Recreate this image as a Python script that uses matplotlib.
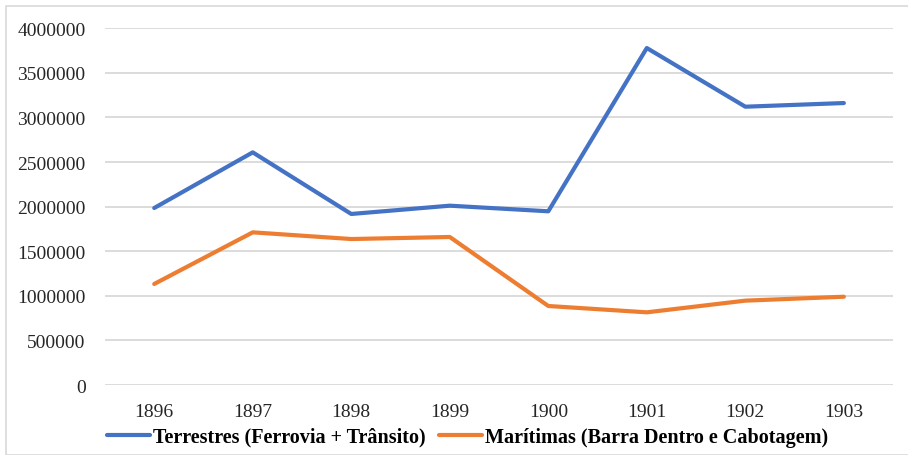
import matplotlib.pyplot as plt
from matplotlib.patches import Rectangle

plt.rcParams['font.family'] = ['Liberation Serif', 'DejaVu Serif']

anos = ['1896', '1897', '1898', '1899', '1900', '1901', '1902', '1903']
terrestres = [1985000, 2609000, 1918000, 2011000, 1948000, 3779000, 3121000, 3162000]
maritimas = [1133000, 1712000, 1637000, 1660000, 886000, 815000, 946000, 990000]

fig = plt.figure(figsize=(9.08, 4.56), dpi=100)
ax = fig.add_axes([0.1156, 0.1535, 0.868, 0.7822])

x = range(len(anos))
ax.plot(x, terrestres, color='#4472C4', lw=3, solid_capstyle='round',
        label='Terrestres (Ferrovia + Trânsito)')
ax.plot(x, maritimas, color='#ED7D31', lw=3, solid_capstyle='round',
        label='Marítimas (Barra Dentro e Cabotagem)')

ax.set_xlim(-0.5, len(anos) - 0.5)
ax.set_ylim(0, 4000000)
ax.set_yticks(range(0, 4000001, 500000))
ax.set_yticklabels([str(v) for v in range(0, 4000001, 500000)])
ax.set_xticks(list(x))
ax.set_xticklabels(anos)
ax.tick_params(length=0, labelsize=14, colors='#262626')
ax.tick_params(axis='x', pad=13)
ax.tick_params(axis='y', pad=14)
ax.grid(axis='y', color='#D9D9D9', lw=1.3)
ax.set_axisbelow(True)
for s in ax.spines.values():
    s.set_visible(False)

ax.legend(loc='center', bbox_to_anchor=(0.46, -0.145), ncol=2, frameon=False,
          prop={'weight': 'bold', 'size': 14.5}, handlelength=2.1,
          handletextpad=0.15, columnspacing=0.7)

# moldura da área do gráfico
fig.patches.append(Rectangle((6 / 908, 0), 1, 1 - 7 / 456, transform=fig.transFigure,
                             fill=False, edgecolor='#D9D9D9', lw=1.2))

fig.savefig('out.png', dpi=100)
